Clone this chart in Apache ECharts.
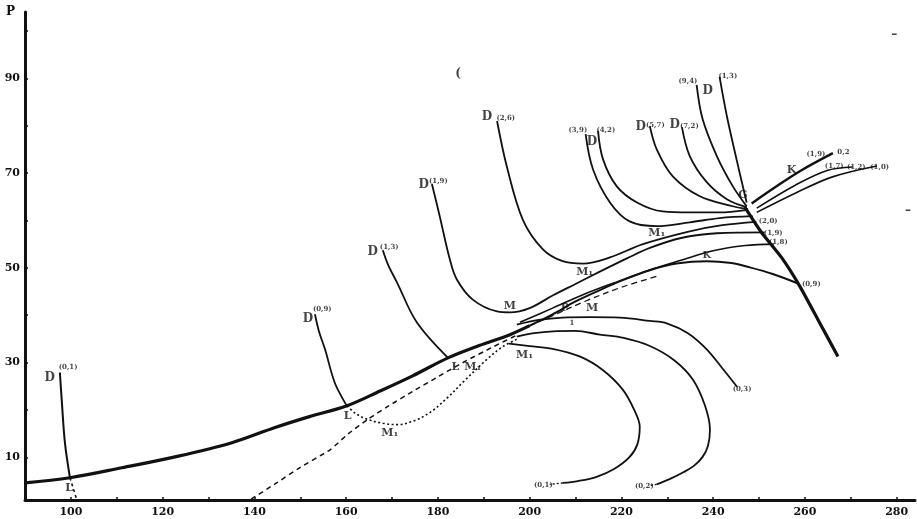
<!DOCTYPE html>
<html>
<head>
<meta charset="utf-8">
<script src="https://cdn.jsdelivr.net/npm/echarts@6/dist/echarts.min.js"></script>
<style>
    html, body {margin:0;padding:0;background:#ffffff;}
    #chart {width:917px;height:519px;}
</style>
</head>
<body>
<div id="chart"></div>
<script>
    // axis ticks / labels
    var xTicks = [100, 110, 120, 130, 140, 150, 160, 170, 180, 190, 200, 210, 220, 230, 240, 250, 260, 270, 280];
    var xLabels = [100, 120, 140, 160, 180, 200, 220, 240, 260, 280];
    var yTicks = [10, 20, 30, 40, 50, 60, 70, 80, 90, 100];
    var yLabels = [10, 30, 50, 70, 90];

    // thick vapour pressure line
    var mainLine = [[90, 4.6], [99.8, 5.7], [111.1, 7.8], [122.7, 10.1], [135.1, 13.1], [144.5, 16.3], [152, 18.6],
        [160.2, 20.9], [167.4, 24.0], [174.5, 27.2], [182.2, 31.0], [189, 33.6], [195.7, 35.9], [200, 37.8]];
    // its continuation through the bundle (K)
    var kLine = [[200, 37.8], [205, 40.2], [210, 42.9], [215.3, 45.3], [220, 47.3], [226.2, 49.5], [232, 50.9],
        [238.6, 51.4], [244, 51.0], [248, 50.1], [253, 48.7], [258.5, 46.7]];
    // thick line down from G
    var gLine = [[246.9, 62.8], [250.5, 57.5], [254.9, 52.2], [258.9, 46.1], [263, 38.8], [267.2, 31.3]];

    // D curves
    var d01 = [[97.6, 27.9], [98.0, 22.2], [98.7, 13.1], [99.8, 5.7]];
    var d01tail = [[99.8, 5.7], [100.5, 3.5], [101.3, 1.0]];
    var d09 = [[153.2, 40.2], [154.1, 36.5], [155.4, 32.8], [157.5, 25.8], [159.7, 21.6], [160.2, 20.9]];
    var d13 = [[168.0, 53.7], [169.2, 50.5], [171.1, 46.9], [175.4, 38.5], [182.2, 31.0]];
    var d19 = [[178.7, 67.7], [180.4, 60.9], [182.6, 51.8], [184.1, 47.6], [187.6, 43.3], [192.9, 40.8], [195.7, 40.6],
        [200, 41.5], [205.1, 44.2], [210, 46.6], [215.3, 49.2], [221.2, 52.0], [226.2, 54.2], [233, 56.3],
        [240.8, 57.3], [251.2, 57.5]];
    var d26 = [[192.9, 81.0], [195.0, 71.5], [198.5, 60.2], [202.9, 53.9], [207.2, 51.4], [211.6, 50.9], [217.5, 52.2],
        [224.7, 55.0], [234.9, 57.7], [242, 59.0], [249.4, 59.7]];
    var d39 = [[212.2, 78.2], [213.8, 70.8], [217.5, 63.8], [221.8, 59.8], [227.7, 58.8], [234.9, 59.6], [241.4, 60.5], [248.6, 60.9]];
    var d42 = [[214.9, 78.9], [216.0, 72.9], [219.0, 67.2], [223.4, 63.8], [229.0, 61.9], [234.9, 61.7], [241.4, 61.7], [247.1, 62.2]];
    var d57 = [[226.2, 79.9], [227.7, 75.0], [231.2, 69.3], [237.1, 65.1], [244.3, 63.0], [247.6, 62.4]];
    var d72 = [[233.2, 79.7], [234.9, 73.6], [238.6, 68.1], [243.0, 64.5], [247.3, 62.8]];
    var d94 = [[236.4, 88.6], [237.7, 81.4], [240.8, 73.6], [244.3, 67.2], [247.3, 63.0]];
    var d13b = [[241.4, 90.3], [243.0, 82.0], [245.1, 72.9], [247.3, 63.8]];

    // second bundle line and dashed line inside the bundle
    var line18 = [[197.9, 38.5], [205, 41.5], [212, 44.5], [219.7, 47.3], [226, 49.5], [233, 51.6], [240, 53.6], [247, 54.7], [253.2, 55.0]];
    var bundleDash = [[198, 36.9], [205, 39.9], [212, 42.9], [220, 45.9], [228, 48.3]];

    // lines from G to the upper right
    var right1 = [[248.4, 63.6], [253.5, 67.0], [258.9, 70.4], [266.1, 74.2]];
    var right2 = [[249.5, 62.6], [258, 67.5], [265, 70.6], [270.4, 71.3]];
    var right3 = [[249.5, 61.7], [258, 65.8], [266, 69.2], [275.7, 71.5]];

    // lower family of curves
    var low03 = [[197.2, 38.0], [202, 39.0], [207.2, 39.5], [213, 39.6], [219.7, 39.5], [226.2, 38.8], [229.9, 38.3],
        [234.5, 36.2], [238.6, 32.8], [242, 28.8], [245.2, 24.9]];
    var low02 = [[197.2, 35.5], [201, 36.2], [205.1, 36.6], [210, 36.7], [215.3, 35.9], [220.5, 35.2], [226.2, 33.5],
        [231.5, 30.5], [235.6, 26.4], [238.2, 21.0], [239.3, 15.9], [238.9, 12.5], [237.7, 10.1], [235.8, 8.2],
        [233.4, 6.8], [230.5, 5.4], [227.7, 4.3]];
    var low02tail = [[227.7, 4.3], [226.3, 4.1]];
    var low01 = [[195.5, 34.0], [200, 33.5], [205, 32.9], [210.9, 31.3], [216, 28.4], [220.3, 24.3], [222.8, 20.0],
        [224.0, 16.5], [223.5, 12.8], [221.8, 10.1], [218.5, 7.6], [214.6, 5.9], [210.5, 5.0], [207.2, 4.6]];
    var low01tail = [[207.2, 4.6], [204.4, 4.3]];

    // dotted M1 curve and dashed straight line
    var dotM1 = [[160.2, 20.9], [162, 19.3], [164.7, 18.0], [168, 17.2], [171.1, 16.9], [175, 17.8], [178.3, 19.5],
        [182, 22.5], [185.4, 25.8], [190.7, 30.7], [194.2, 33.4], [197.2, 34.9]];
    var dashLine = [[139.3, 1.2], [145, 4.7], [150, 7.9], [156.5, 11.6], [160.5, 15.0], [164.7, 18.0], [169, 20.7],
        [174.5, 23.9], [180, 27.0], [186, 30.3], [192, 33.3], [197.2, 35.8]];

    // text marks [x, y, text, size]
    var labels = [
        [95.4, 26.8, 'D', 12], [99.4, 29.0, '(0,1)', 7], [99.6, 3.6, 'L', 11],
        [151.7, 39.3, 'D', 12], [154.8, 41.2, '(0,9)', 7], [160.3, 18.6, 'L', 11], [169.5, 15.2, 'M₁', 11],
        [165.8, 53.3, 'D', 12], [169.4, 54.3, '(1,3)', 7], [183.8, 29.0, 'L', 11], [187.6, 29.0, 'M₁', 11],
        [176.9, 67.6, 'D', 12], [180.1, 68.3, '(1,9)', 7], [195.7, 41.9, 'M', 11],
        [190.7, 81.8, 'D', 12], [194.8, 81.6, '(2,6)', 7], [212, 49.0, 'M₁', 11],
        [210.5, 79.1, '(3,9)', 7], [213.6, 76.5, 'D', 12], [216.6, 79.1, '(4,2)', 7], [227.7, 57.4, 'M₁', 11],
        [224.2, 79.7, 'D', 12], [227.4, 80.1, '(5,7)', 7], [231.6, 80.1, 'D', 12], [234.8, 79.9, '(7,2)', 7],
        [234.5, 89.4, '(9,4)', 7], [238.8, 87.3, 'D', 12], [243.2, 90.5, '(1,3)', 7],
        [246.5, 65.3, 'G', 11], [257.1, 70.6, 'K', 11],
        [262.4, 74.0, '(1,9)', 7], [268.4, 74.4, '0,2', 7], [266.4, 71.5, '(1,7)', 7], [271.2, 71.3, '(1,2)', 7], [276.3, 71.3, '(1,0)', 7],
        [252.0, 59.8, '(2,0)', 7], [253.1, 57.4, '(1,9)', 7], [254.2, 55.4, '(1,8)', 7], [261.4, 46.5, '(0,9)', 7],
        [238.6, 52.6, 'K', 10], [207.7, 41.4, 'P', 11], [209.2, 38.4, '1', 7], [213.6, 41.4, 'M', 11],
        [198.9, 31.6, 'M₁', 11], [246.3, 24.3, '(0,3)', 7], [225.0, 4.0, '(0,2)', 7], [203.0, 4.2, '(0,1)', 7],
        [184.4, 90.9, '(', 12], [279.5, 99.2, '–', 12], [282.5, 62.0, '–', 12]
    ];

    var chart = echarts.init(document.getElementById('chart'));

    var ink = '#111111';
    function curve(data, width, type, smooth) {
        return {
            type: 'line',
            data: data,
            showSymbol: false,
            smooth: smooth === undefined ? 0.35 : smooth,
            silent: true,
            z: 3,
            lineStyle: {color: ink, width: width, type: type || 'solid'}
        };
    }

    var series = [
        curve(mainLine, 3.2),
        curve(kLine, 2),
        curve(gLine, 3.2, 'solid', 0.2),
        curve(d01, 2),
        curve(d01tail, 1.6, [3, 3], 0),
        curve(d09, 1.8),
        curve(d13, 1.8),
        curve(d19, 1.8),
        curve(d26, 1.8),
        curve(d39, 1.8),
        curve(d42, 1.8),
        curve(d57, 1.8),
        curve(d72, 1.8),
        curve(d94, 1.8),
        curve(d13b, 1.8),
        curve(line18, 1.6),
        curve(bundleDash, 1.3, [6, 4]),
        curve(right1, 2.4),
        curve(right2, 1.6),
        curve(right3, 1.6),
        curve(low03, 1.8),
        curve(low02, 1.8),
        curve(low02tail, 1.4, [2, 2], 0),
        curve(low01, 1.8),
        curve(low01tail, 1.4, [2, 2], 0),
        curve(dotM1, 1.6, [2, 2.5]),
        curve(dashLine, 1.5, [5, 4], 0.2),
        {
            type: 'scatter',
            symbolSize: 0,
            silent: true,
            z: 5,
            data: labels.map(function (l) {
                return {
                    value: [l[0], l[1]],
                    label: {
                        show: true,
                        position: 'inside',
                        formatter: l[2],
                        fontSize: l[3],
                        fontFamily: 'DejaVu Serif',
                        fontWeight: 'bold',
                        color: ink
                    }
                };
            })
        }
    ];

    var option = {
        backgroundColor: '#ffffff',
        animation: false,
        grid: {left: 25, right: 2, top: 12, bottom: 19, containLabel: false},
        xAxis: {
            type: 'value',
            min: 90,
            max: 284,
            splitLine: {show: false},
            axisLine: {show: true, onZero: false, lineStyle: {color: ink, width: 3}},
            axisTick: {show: true, inside: true, length: 3, customValues: xTicks, lineStyle: {color: ink, width: 1.5}},
            axisLabel: {
                customValues: xLabels,
                margin: 7,
                fontSize: 11,
                fontFamily: 'DejaVu Serif',
                fontWeight: 'bold',
                color: ink
            }
        },
        yAxis: {
            type: 'value',
            min: 1,
            max: 104,
            splitLine: {show: false},
            axisLine: {show: true, onZero: false, lineStyle: {color: ink, width: 3}},
            axisTick: {show: true, inside: true, length: 3, customValues: yTicks, lineStyle: {color: ink, width: 1.5}},
            axisLabel: {
                customValues: yLabels,
                margin: 5,
                fontSize: 11,
                fontFamily: 'DejaVu Serif',
                fontWeight: 'bold',
                color: ink
            }
        },
        graphic: [{
            type: 'text',
            left: 6,
            top: 6,
            style: {text: 'P', fontSize: 12, fontFamily: 'DejaVu Serif', fontWeight: 'bold', fill: ink}
        }],
        series: series
    };

    chart.setOption(option);
</script>
</body>
</html>
